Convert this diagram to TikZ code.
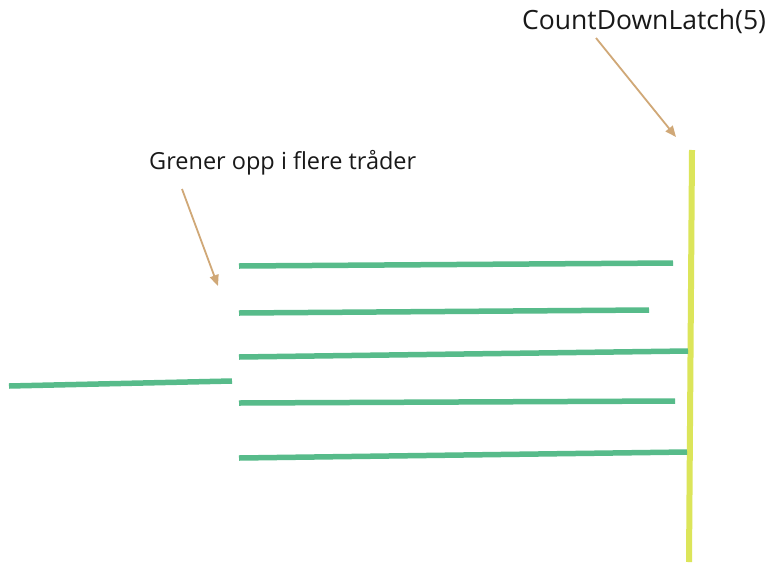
\documentclass[tikz,border=0pt]{standalone}
\usepackage{fontspec}
\setmainfont{Open Sans}
\usetikzlibrary{arrows.meta}
\definecolor{thread}{HTML}{57BB8A}
\definecolor{latch}{HTML}{DCE55A}
\definecolor{pointer}{HTML}{D0A877}
\tikzset{
  threadline/.style={draw=thread, line width=5.5pt},
  latchline/.style={draw=latch, line width=6pt},
  pointerarrow/.style={draw=pointer, line width=1.8pt, -{Triangle[length=11pt,width=9pt]}},
  label/.style={inner sep=0pt, text=black!90, anchor=base west}
}
\begin{document}
\begin{tikzpicture}[x=1pt,y=-1pt]
\useasboundingbox[fill=white] (0,0) rectangle (773,565);
\node[label, font=\fontsize{26.5}{30}\selectfont] (latchlabel) at (522,29) {CountDownLatch(5)};
\node[label, font=\fontsize{23.5}{28}\selectfont] (forklabel) at (149,169) {Grener opp i flere tråder};
\coordinate (latchtop) at (692,150);
\coordinate (latchbot) at (689,562);
\draw[latchline] (latchtop) -- (latchbot);
\coordinate (la1) at (596,38);
\coordinate (la2) at (676,137);
\draw[pointerarrow] (la1) -- (la2);
\coordinate (fa1) at (182,189);
\coordinate (fa2) at (218,286);
\draw[pointerarrow] (fa1) -- (fa2);
\coordinate (m1) at (9,386);
\coordinate (m2) at (232,381);
\draw[threadline] (m1) -- (m2);
\coordinate (t1a) at (239,266); \coordinate (t1b) at (673,263);
\coordinate (t2a) at (239,313); \coordinate (t2b) at (649,310);
\coordinate (t3a) at (239,357); \coordinate (t3b) at (688,351);
\coordinate (t4a) at (239,403); \coordinate (t4b) at (675,401);
\coordinate (t5a) at (239,458); \coordinate (t5b) at (687,452);
\draw[threadline] (t1a) -- (t1b);
\draw[threadline] (t2a) -- (t2b);
\draw[threadline] (t3a) -- (t3b);
\draw[threadline] (t4a) -- (t4b);
\draw[threadline] (t5a) -- (t5b);
\end{tikzpicture}
\end{document}
